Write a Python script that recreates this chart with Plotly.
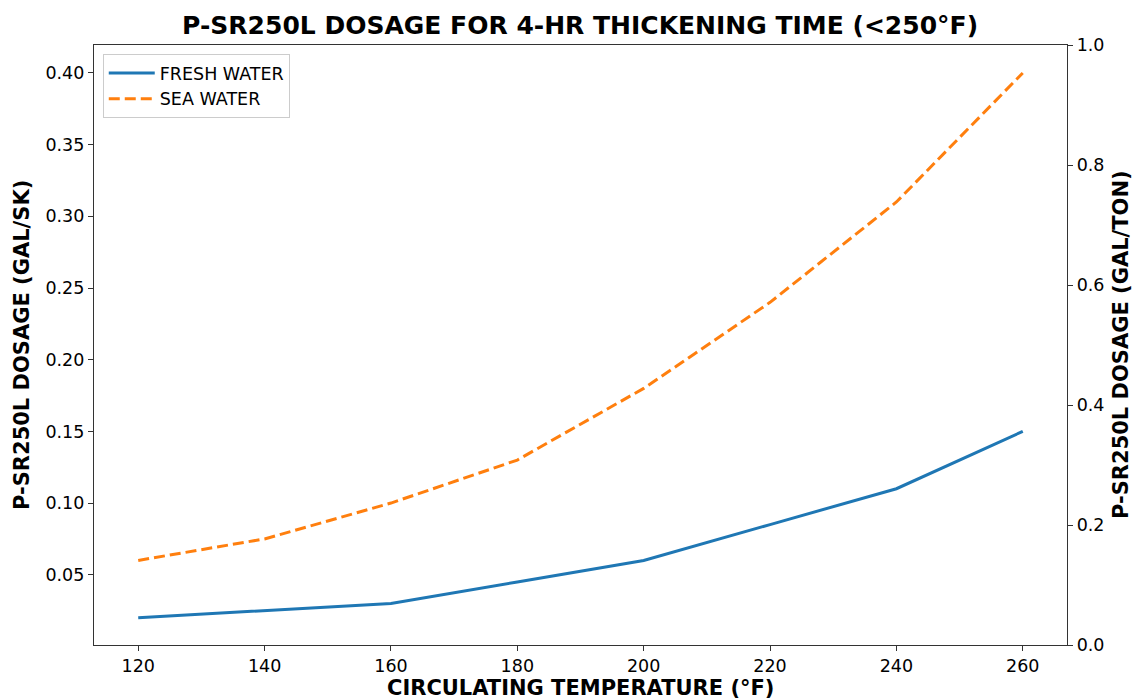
import plotly.graph_objects as go

temps = [120, 140, 160, 180, 200, 220, 240, 260]
fresh_water = [0.02, 0.025, 0.03, 0.045, 0.06, 0.085, 0.11, 0.15]
sea_water = [0.06, 0.075, 0.10, 0.13, 0.18, 0.24, 0.31, 0.40]

left_ticks = [0.05, 0.10, 0.15, 0.20, 0.25, 0.30, 0.35, 0.40]
right_ticks = [0.0, 0.2, 0.4, 0.6, 0.8, 1.0]
x_ticks = [120, 140, 160, 180, 200, 220, 240, 260]

font_family = "DejaVu Sans"
tick_size = 17.5
label_size = 21

fig = go.Figure()
fig.add_trace(go.Scatter(x=temps, y=fresh_water, mode="lines", name="FRESH WATER",
                         line=dict(color="#1f77b4", width=3)))
fig.add_trace(go.Scatter(x=temps, y=sea_water, mode="lines", name="SEA WATER",
                         line=dict(color="#ff7f0e", width=3, dash="11px,5px")))
fig.add_trace(go.Scatter(x=[], y=[], yaxis="y2", showlegend=False, hoverinfo="skip"))

axis_line = "#333333"
fig.update_layout(
    width=1133, height=700,
    margin=dict(l=94, r=66, t=45, b=55),
    paper_bgcolor="white", plot_bgcolor="white",
    font=dict(family=font_family, size=16, color="black"),
    title=dict(text="<b>P-SR250L DOSAGE FOR 4-HR THICKENING TIME (<250°F)</b>",
               x=0.512, xanchor="center", y=0.964, yanchor="middle",
               font=dict(size=25, family=font_family, color="black")),
    xaxis=dict(range=[113, 267], tickvals=x_ticks, ticks="outside", ticklen=5,
               tickcolor=axis_line, showline=True, linecolor=axis_line, linewidth=1.3,
               mirror=True, showgrid=False, zeroline=False, automargin=False,
               tickfont=dict(size=tick_size)),
    yaxis=dict(range=[0.001, 0.4195], tickvals=left_ticks, tickformat=".2f",
               ticks="outside", ticklen=5, tickcolor=axis_line,
               showline=True, linecolor=axis_line, linewidth=1.3, automargin=False,
               showgrid=False, zeroline=False, tickfont=dict(size=tick_size)),
    yaxis2=dict(range=[0, 1.0], tickvals=right_ticks, tickformat=".1f",
                overlaying="y", side="right", anchor="x", automargin=False,
                ticks="outside", ticklen=5, tickcolor=axis_line,
                showline=True, linecolor=axis_line, linewidth=1.3,
                showgrid=False, zeroline=False, tickfont=dict(size=tick_size)),
    legend=dict(x=0.009, y=0.985, xanchor="left", yanchor="top",
                bgcolor="white", bordercolor="#cccccc", borderwidth=1,
                font=dict(size=17.5), tracegroupgap=4, itemwidth=46),
    showlegend=True,
    annotations=[
        dict(text="<b>CIRCULATING TEMPERATURE (°F)</b>", xref="paper", yref="paper",
             x=0.4995, y=-0.071, xanchor="center", yanchor="middle", showarrow=False,
             font=dict(size=label_size)),
        dict(text="<b>P-SR250L DOSAGE (GAL/SK)</b>", xref="paper", yref="paper",
             x=-0.074, y=0.5, xanchor="center", yanchor="middle", showarrow=False,
             textangle=-90, font=dict(size=label_size)),
        dict(text="<b>P-SR250L DOSAGE (GAL/TON)</b>", xref="paper", yref="paper",
             x=1.0555, y=0.5, xanchor="center", yanchor="middle", showarrow=False,
             textangle=-90, font=dict(size=label_size)),
    ],
)

fig.write_html("out.html", config={"displayModeBar": False},
               post_script="document.body.style.margin='0';")
